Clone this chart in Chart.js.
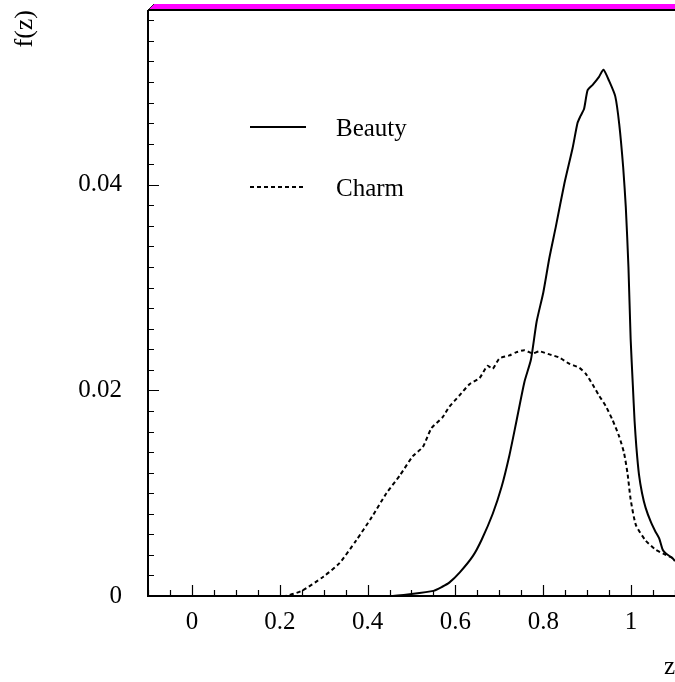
<!DOCTYPE html>
<html lang="en">
<head>
    <meta charset="UTF-8">
    <title>f(z) Beauty / Charm</title>
    <script src="https://cdn.jsdelivr.net/npm/chart.js"></script>
    <style>
        html, body {
            margin: 0;
            padding: 0;
            background: #fff;
        }
        #fragChart {
            display: block;
        }
    </style>
</head>
<body>
    <canvas id="fragChart" width="675" height="682"></canvas>

    <script>
        const beautyZ = [0, 0.45, 0.50, 0.55, 0.57, 0.586, 0.61, 0.64, 0.66, 0.685, 0.705, 0.723, 0.738, 0.757, 0.772, 0.785, 0.80, 0.814, 0.829, 0.848, 0.867, 0.878, 0.885, 0.893, 0.901, 0.912, 0.927, 0.937, 0.95, 0.964, 0.973, 0.982, 0.988, 0.994, 0.999, 1.004, 1.008, 1.012, 1.018, 1.025, 1.033, 1.045, 1.055, 1.064, 1.072, 1.08, 1.094, 1.1];
        const beautyF = [0, 0, 0.0002, 0.0005, 0.0009, 0.0013, 0.0023, 0.0039, 0.0055, 0.0080, 0.0106, 0.0137, 0.0168, 0.0208, 0.0230, 0.0267, 0.0295, 0.0329, 0.0360, 0.0401, 0.0436, 0.0460, 0.0467, 0.0474, 0.0492, 0.0497, 0.0505, 0.0512, 0.0501, 0.0486, 0.0459, 0.0417, 0.0378, 0.0320, 0.0250, 0.0205, 0.0170, 0.0145, 0.0118, 0.0100, 0.0086, 0.0072, 0.0063, 0.0056, 0.0045, 0.0041, 0.0037, 0.0034];

        const charmZ = [0, 0.21, 0.25, 0.30, 0.336, 0.374, 0.41, 0.443, 0.473, 0.503, 0.526, 0.545, 0.571, 0.586, 0.609, 0.632, 0.655, 0.673, 0.685, 0.70, 0.723, 0.738, 0.757, 0.776, 0.791, 0.814, 0.836, 0.859, 0.882, 0.897, 0.912, 0.927, 0.942, 0.958, 0.973, 0.984, 0.992, 0.999, 1.011, 1.033, 1.056, 1.079, 1.094, 1.1];
        const charmF = [0, 0, 0.0005, 0.0019, 0.0032, 0.0054, 0.0077, 0.0100, 0.0117, 0.0136, 0.0145, 0.0163, 0.0174, 0.0184, 0.0195, 0.0206, 0.0212, 0.0224, 0.0221, 0.0231, 0.0234, 0.0237, 0.0239, 0.0236, 0.0238, 0.0235, 0.0232, 0.0226, 0.0222, 0.0216, 0.0206, 0.0195, 0.0185, 0.0171, 0.0155, 0.0139, 0.0119, 0.0094, 0.0069, 0.0054, 0.0045, 0.0040, 0.0037, 0.0036];

        const xTicks = [0, 0.2, 0.4, 0.6, 0.8, 1];
        const yTicks = [0, 0.02, 0.04];

        const serif = "'Liberation Serif', serif";

        function toPoints(xs, ys) {
            return xs.map((x, i) => ({ x: x, y: ys[i] }));
        }

        // frame, inward ticks, magenta top band and the legend
        const framePlugin = {
            id: 'frame',
            afterDraw(chart) {
                const c = chart.ctx;
                const a = chart.chartArea;
                const xs = chart.scales.x;
                const ys = chart.scales.y;
                c.save();

                // magenta top band
                c.fillStyle = '#ff00ff';
                c.beginPath();
                c.moveTo(a.left, a.top);
                c.lineTo(a.left + 6, a.top - 6);
                c.lineTo(a.right, a.top - 6);
                c.lineTo(a.right, a.top);
                c.closePath();
                c.fill();
                c.strokeStyle = '#000';
                c.lineWidth = 0.8;
                c.beginPath();
                c.moveTo(a.left, a.top);
                c.lineTo(a.left + 6, a.top - 6);
                c.stroke();

                // axes
                c.lineWidth = 2;
                c.beginPath();
                c.moveTo(a.left, a.top);
                c.lineTo(a.right, a.top);
                c.moveTo(a.left, a.top);
                c.lineTo(a.left, a.bottom);
                c.lineTo(a.right, a.bottom);
                c.stroke();

                // ticks
                c.lineWidth = 1.2;
                c.beginPath();
                for (let k = -2; k <= 22; k++) {
                    const v = k * 0.05;
                    if (v < xs.min - 1e-9 || v > xs.max + 1e-9) continue;
                    const px = Math.round(xs.getPixelForValue(v)) + 0.5;
                    const len = (k % 4 === 0) ? 11 : 6;
                    c.moveTo(px, a.bottom);
                    c.lineTo(px, a.bottom - len);
                }
                for (let k = 1; k <= 28; k++) {
                    const v = k * 0.002;
                    if (v > ys.max) continue;
                    const py = Math.round(ys.getPixelForValue(v)) + 0.5;
                    const len = (k % 10 === 0) ? 11 : 6;
                    c.moveTo(a.left, py);
                    c.lineTo(a.left + len, py);
                }
                c.stroke();

                // legend
                c.font = '25px ' + serif;
                c.fillStyle = '#000';
                c.textBaseline = 'middle';
                const rows = [127, 187];
                chart.data.datasets.forEach((ds, i) => {
                    c.strokeStyle = '#000';
                    c.lineWidth = ds.borderWidth;
                    c.setLineDash(ds.borderDash || []);
                    c.beginPath();
                    c.moveTo(250, rows[i]);
                    c.lineTo(306, rows[i]);
                    c.stroke();
                    c.setLineDash([]);
                    c.fillText(ds.label, 336, rows[i] + 2);
                });
                c.restore();
            }
        };

        const ctx = document.getElementById('fragChart').getContext('2d');
        const fragChart = new Chart(ctx, {
            type: 'line',
            data: {
                datasets: [{
                    label: 'Beauty',
                    data: toPoints(beautyZ, beautyF),
                    borderColor: '#000',
                    borderWidth: 2,
                    pointRadius: 0,
                    tension: 0.2,
                    fill: false
                }, {
                    label: 'Charm',
                    data: toPoints(charmZ, charmF),
                    borderColor: '#000',
                    borderWidth: 2,
                    borderDash: [4, 3],
                    pointRadius: 0,
                    tension: 0.2,
                    fill: false
                }]
            },
            options: {
                responsive: false,
                animation: false,
                layout: { padding: { top: 10, right: 0, left: 0, bottom: 0 } },
                plugins: {
                    legend: { display: false },
                    tooltip: { enabled: false }
                },
                scales: {
                    x: {
                        type: 'linear',
                        min: -0.1,
                        max: 1.1,
                        grid: { display: false },
                        border: { display: false },
                        afterBuildTicks: (scale) => { scale.ticks = xTicks.map(v => ({ value: v })); },
                        afterFit: (scale) => {
                            scale.height = 86;
                            scale.paddingLeft = 0;
                            scale.paddingRight = 0;
                        },
                        ticks: {
                            color: '#000',
                            font: { family: serif, size: 25 },
                            padding: 3,
                            maxRotation: 0,
                            callback: (v) => String(v)
                        },
                        title: {
                            display: true,
                            text: 'z',
                            align: 'end',
                            color: '#000',
                            font: { family: serif, size: 25 },
                            padding: 0
                        }
                    },
                    y: {
                        type: 'linear',
                        min: 0,
                        max: 0.057,
                        grid: { display: false },
                        border: { display: false },
                        afterBuildTicks: (scale) => { scale.ticks = yTicks.map(v => ({ value: v })); },
                        afterFit: (scale) => {
                            scale.width = 148;
                            scale.paddingTop = 0;
                            scale.paddingBottom = 0;
                        },
                        ticks: {
                            color: '#000',
                            font: { family: serif, size: 25 },
                            padding: 18,
                            callback: (v) => String(v)
                        },
                        title: {
                            display: true,
                            text: 'f(z)',
                            align: 'end',
                            color: '#000',
                            font: { family: serif, size: 26 },
                            padding: { top: 10, bottom: 0 }
                        }
                    }
                }
            },
            plugins: [framePlugin]
        });
    </script>
</body>
</html>
